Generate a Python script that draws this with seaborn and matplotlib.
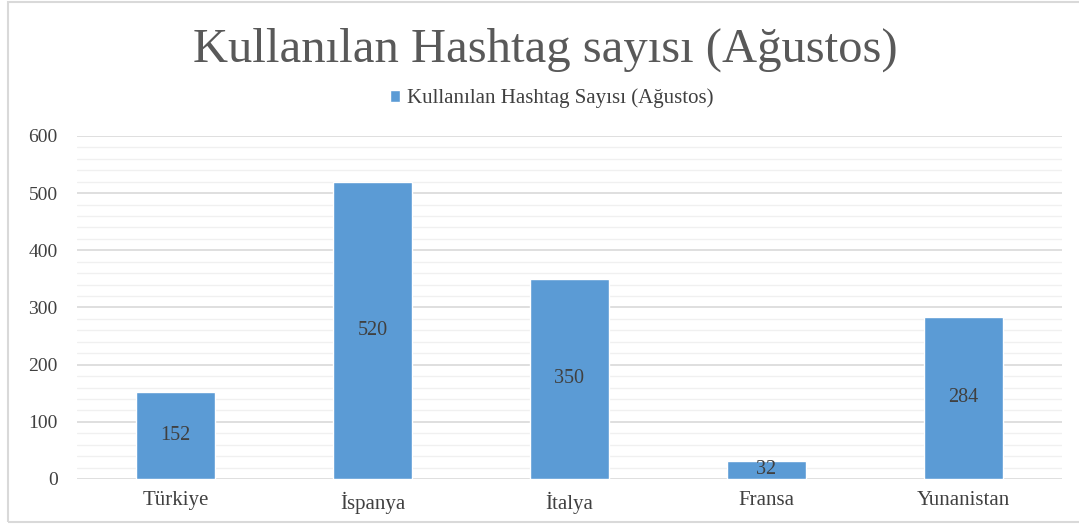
import matplotlib.pyplot as plt
import pandas as pd
import seaborn as sns
from matplotlib.patches import Rectangle
from matplotlib.ticker import MultipleLocator

# Chart data
countries = ["Türkiye", "İspanya", "İtalya", "Fransa", "Yunanistan"]
hashtag_counts = [152, 520, 350, 32, 284]
series_name = "Kullanılan Hashtag Sayısı (Ağustos)"
chart_title = "Kullanılan Hashtag sayısı (Ağustos)"

df = pd.DataFrame({"Ülke": countries, "Sayı": hashtag_counts})

sns.set_style("white")
plt.rcParams["font.family"] = ["Liberation Serif", "DejaVu Serif"]

bar_color = "#5b9bd5"
text_color = "#404040"

fig = plt.figure(figsize=(10.79, 5.24), dpi=100)
ax = fig.add_axes([0.0714, 0.0859, 0.9128, 0.6546])

sns.barplot(data=df, x="Ülke", y="Sayı", color=bar_color, width=0.4,
            saturation=1, ax=ax, label=series_name, zorder=3)

ax.set_ylim(0, 600)
ax.yaxis.set_major_locator(MultipleLocator(100))
ax.yaxis.set_minor_locator(MultipleLocator(20))
ax.grid(which="major", axis="y", color="#d9d9d9", linewidth=1.2, zorder=0)
ax.grid(which="minor", axis="y", color="#f0f0f0", linewidth=1.0, zorder=0)
ax.set_axisbelow(True)
for side in ["top", "right", "left", "bottom"]:
    ax.spines[side].set_visible(False)
ax.set_xlabel("")
ax.set_ylabel("")
ax.tick_params(axis="x", length=0, labelsize=15, colors=text_color, pad=9)
ax.tick_params(axis="y", length=0, labelsize=14, colors=text_color, pad=14)
ax.tick_params(axis="y", which="minor", length=0)

# values in the middle of each bar
for patch, val in zip(ax.patches, hashtag_counts):
    ax.text(patch.get_x() + patch.get_width() / 2, val / 2, str(val),
            ha="center", va="center", fontsize=14.5, color=text_color, zorder=4)

ax.legend(loc="center", bbox_to_anchor=(0.482, 1.11), frameon=False,
          fontsize=15, handlelength=0.5, handleheight=0.5, handletextpad=0.35,
          labelcolor=text_color)

fig.text(0.505, 0.905, chart_title, ha="center", va="center", fontsize=35,
         color="#595959")

# chart border
fig.patches.append(Rectangle((8 / 1079, 2 / 524), 1.1, 520 / 524,
                             transform=fig.transFigure, fill=False,
                             edgecolor="#d9d9d9", linewidth=1.5))

fig.savefig("out.png", dpi=100)
